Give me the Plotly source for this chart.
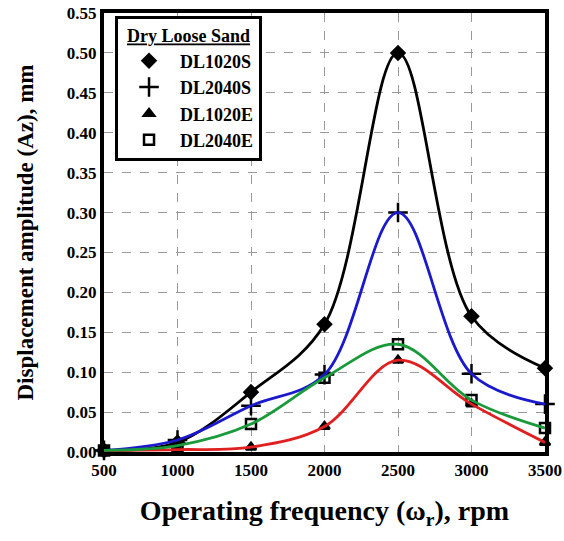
import plotly.graph_objects as go

freq = [500, 1000, 1500, 2000, 2500, 3000, 3500]
dl1020s = [0.002, 0.012, 0.075, 0.160, 0.500, 0.170, 0.105]
dl2040s = [0.002, 0.015, 0.058, 0.097, 0.300, 0.098, 0.060]
dl1020e = [0.002, 0.003, 0.006, 0.032, 0.115, 0.060, 0.012]
dl2040e = [0.002, 0.008, 0.035, 0.093, 0.135, 0.065, 0.030]

series = [
    ("DL1020S", dl1020s, "#000000", "diamond", 10),
    ("DL2040S", dl2040s, "#1a1acc", "cross-thin", 14),
    ("DL1020E", dl1020e, "#e02020", "triangle-up", 9),
    ("DL2040E", dl2040e, "#1a9a3a", "square-open", 10),
]

fig = go.Figure()
for name, vals, color, sym, size in series:
    fig.add_trace(go.Scatter(
        x=freq, y=vals, mode="markers", name=name, showlegend=True,
        marker=dict(symbol=sym, size=size, color="#000000",
                    line=dict(color="#000000", width=2.5)),
        cliponaxis=False,
    ))
for name, vals, color, sym, size in series:
    fig.add_trace(go.Scatter(
        x=freq, y=vals, mode="lines", showlegend=False,
        line=dict(color=color, width=2.8, shape="spline", smoothing=1.0),
        cliponaxis=False,
    ))

serif = "Liberation Serif"
fig.update_layout(
    width=564, height=541,
    margin=dict(l=104, r=19, t=13, b=89),
    plot_bgcolor="white", paper_bgcolor="white",
    font=dict(family=serif, color="#000000"),
    legend=dict(
        x=0.025, y=0.993, xanchor="left", yanchor="top",
        bordercolor="#000000", borderwidth=3, bgcolor="white",
        title=dict(text="<u>Dry Loose Sand</u>", side="top center",
                   font=dict(family=serif, size=18, weight="bold")),
        font=dict(family=serif, size=18, weight="bold"),
        itemwidth=52,
    ),
    xaxis=dict(
        range=[500, 3500], dtick=500, tick0=500,
        showgrid=True, gridcolor="#9a9a9a", griddash="dash", gridwidth=1,
        showline=True, mirror=True, linecolor="#000000", linewidth=4,
        zeroline=False, ticks="", automargin=False, ticklabeloverflow="allow",
        tickfont=dict(family=serif, size=17, weight="bold"),
        title=dict(text="Operating frequency (ω<sub>r</sub>), rpm",
                   font=dict(family=serif, size=28, weight="bold"),
                   standoff=22),
    ),
    yaxis=dict(
        range=[0, 0.55], dtick=0.05, tickformat=".2f",
        showgrid=True, gridcolor="#9a9a9a", griddash="dash", gridwidth=1,
        showline=True, mirror=True, linecolor="#000000", linewidth=4,
        zeroline=False, ticks="", automargin=False, ticklabeloverflow="allow",
        tickfont=dict(family=serif, size=17, weight="bold"),
        title=dict(text="Displacement amplitude (Az), mm",
                   font=dict(family=serif, size=23, weight="bold"),
                   standoff=28),
    ),
)

fig.write_html("out.html", config={"displayModeBar": False},
               post_script="document.body.style.margin='0px';")
